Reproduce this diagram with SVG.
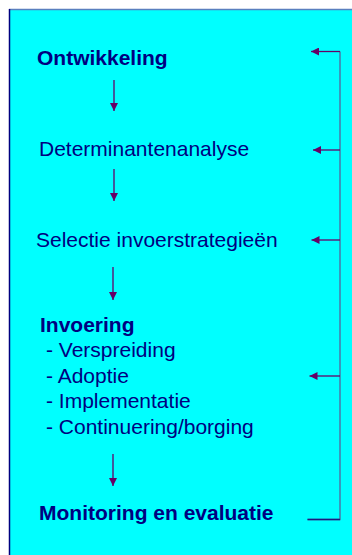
<svg xmlns="http://www.w3.org/2000/svg" width="352" height="555" viewBox="0 0 352 555">
<style>
text{font-family:"Liberation Sans",Arial,sans-serif;font-size:21px;fill:#000080}
.b{font-weight:bold}
.arr{stroke:#660066;stroke-width:1.3;fill:none}
.ln{stroke:#4a78a8;stroke-width:1.5;fill:none}
</style>
<defs>
<marker id="ah" markerUnits="userSpaceOnUse" markerWidth="9" markerHeight="8" refX="8" refY="4" orient="auto">
<path d="M0,0 L8,4 L0,8 Z" fill="#660066"/>
</marker>
</defs>
<rect x="9" y="9" width="350" height="560" fill="#00ffff"/>
<line x1="9" y1="9.5" x2="352" y2="9.5" stroke="#5a7fbf" stroke-width="1.5"/>
<line x1="9.5" y1="9" x2="9.5" y2="555" stroke="#000080" stroke-width="1.5"/>
<g id="n1"><text class="b" x="37" y="65">Ontwikkeling</text></g>
<g id="n2"><text x="39" y="156">Determinantenanalyse</text></g>
<g id="n3"><text x="36" y="247">Selectie invoerstrategieën</text></g>
<g id="n4">
<text class="b" x="40" y="331.5">Invoering</text>
<text x="46" y="357">- Verspreiding</text>
<text x="46" y="382.5">- Adoptie</text>
<text x="46" y="408">- Implementatie</text>
<text x="46" y="433.5">- Continuering/borging</text>
</g>
<g id="n5"><text class="b" x="39" y="520">Monitoring en evaluatie</text></g>
<g id="connectors">
<line class="arr" x1="114" y1="80" x2="114" y2="111" marker-end="url(#ah)"/>
<line class="arr" x1="114" y1="169" x2="114" y2="201" marker-end="url(#ah)"/>
<line class="arr" x1="113" y1="267" x2="113" y2="300" marker-end="url(#ah)"/>
<line class="arr" x1="113" y1="454" x2="113" y2="486" marker-end="url(#ah)"/>
<polyline class="ln" points="307.5,519.5 340,519.5 340,51.5"/>
<line x1="307.5" y1="519.5" x2="340" y2="519.5" stroke="#1a1a80" stroke-width="1.5"/>
<line class="arr" x1="340" y1="51.5" x2="311" y2="51.5" marker-end="url(#ah)"/>
<line class="arr" x1="340" y1="150" x2="313" y2="150" marker-end="url(#ah)"/>
<line class="arr" x1="340" y1="240" x2="311.5" y2="240" marker-end="url(#ah)"/>
<line class="arr" x1="340" y1="376" x2="309.5" y2="376" marker-end="url(#ah)"/>
</g>
</svg>
